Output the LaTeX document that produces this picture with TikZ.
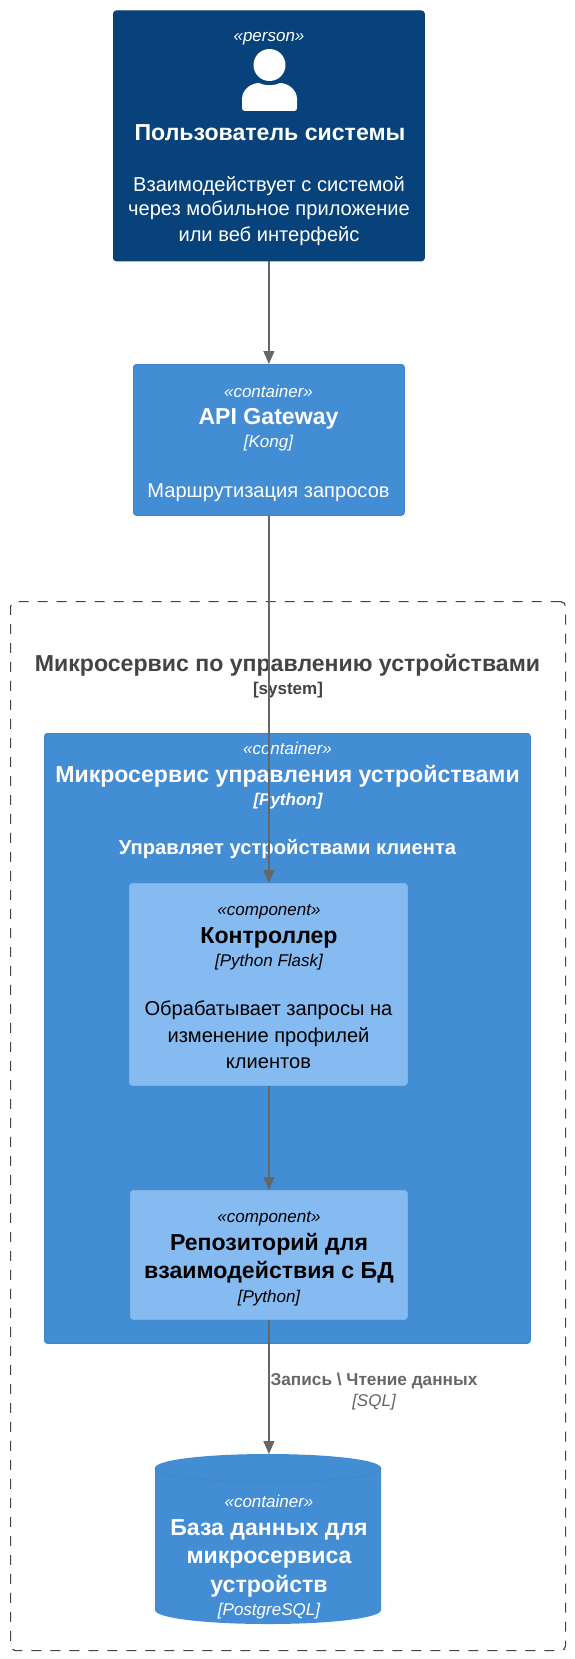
\documentclass[tikz,border=0pt]{standalone}
\usepackage{fontspec}
\setmainfont{Liberation Sans}
\usetikzlibrary{arrows.meta}
\definecolor{personc}{HTML}{08427B}
\definecolor{personb}{HTML}{0A3F74}
\definecolor{contc}{HTML}{438DD5}
\definecolor{contb}{HTML}{3F85CA}
\definecolor{compc}{HTML}{85BBF0}
\definecolor{compb}{HTML}{7FB2E4}
\definecolor{linec}{HTML}{666666}
\definecolor{sysc}{HTML}{444444}
\tikzset{
  x=1pt,y=-1pt,
  bx/.style={rectangle,rounded corners=3pt,inner sep=0pt,line width=0.8pt,anchor=north west},
  personbox/.style={bx,fill=personc,draw=personb},
  contbox/.style={bx,fill=contc,draw=contb},
  compbox/.style={bx,fill=compc,draw=compb},
  sysbox/.style={rectangle,rounded corners=5pt,draw=sysc,line width=1.2pt,dash pattern=on 10pt off 9pt,anchor=north west,inner sep=0pt},
  tx/.style={anchor=base,inner sep=0pt,align=center},
  wt/.style={text=white},
  stereo/.style={tx,font=\fontsize{17}{20}\selectfont\itshape},
  tech/.style={tx,font=\fontsize{17}{20}\selectfont\itshape},
  nm/.style={tx,font=\fontsize{23.1}{28}\selectfont\bfseries},
  desc/.style={tx,font=\fontsize{20.1}{25.5}\selectfont},
  conn/.style={draw=linec,line width=1.2pt,-{Triangle[length=13pt,width=11pt,fill=linec]}},
}
\begin{document}
\begin{tikzpicture}
\useasboundingbox (0,0) rectangle (575,1659);
\fill[white] (0,0) rectangle (575,1659);
% system boundary
\node[sysbox,minimum width=555pt,minimum height=1049pt] (sys) at (10,601) {};
\node[nm,text=sysc] (systitle) at (287.5,671.5) {Микросервис по управлению устройствами};
\node[tx,font=\fontsize{17}{20}\selectfont\bfseries,text=sysc] (systag) at (288,694) {[system]};
% person
\node[personbox,minimum width=311pt,minimum height=250pt] (person) at (113,10.5) {};
\node[stereo,wt] (pst) at (269,42) {«person»};
\node[fill=white,circle,minimum size=32pt,inner sep=0pt] (head) at (269.5,65) {};
\fill[white] (242,108) .. controls (242,110) and (243,111) .. (245,111) -- (294,111) .. controls (296,111) and (297,110) .. (297,108) -- (297,99) .. controls (297,89) and (287,83) .. (280,83) .. controls (274,86) and (265,86) .. (259,83) .. controls (252,83) and (242,89) .. (242,99) -- cycle;
\node[nm,wt] (pname) at (270,140) {Пользователь системы};
\node[desc,wt] (pd1) at (269,191) {Взаимодействует с системой};
\node[desc,wt] (pd2) at (269,215.5) {через мобильное приложение};
\node[desc,wt] (pd3) at (269,241) {или веб интерфейс};
% api
\node[contbox,minimum width=271pt,minimum height=151pt] (api) at (133,364) {};
\node[stereo,wt] (ast) at (268.5,397) {«container»};
\node[nm,wt] (aname) at (268.5,424) {API Gateway};
\node[tech,wt] (atech) at (268.5,447) {[Kong]};
\node[desc,wt] (adesc) at (268.5,497) {Маршрутизация запросов};
% container
\node[contbox,minimum width=486pt,minimum height=610pt] (cont) at (44,733) {};
\node[stereo,wt] (cst) at (287.5,754) {«container»};
\node[nm,wt] (cname) at (287.5,782) {Микросервис управления устройствами};
\node[tx,font=\fontsize{17}{20}\selectfont\itshape\bfseries,wt] (ctech) at (288,805) {[Python]};
\node[tx,font=\fontsize{20.2}{24}\selectfont\bfseries,wt] (cdesc) at (287.5,854) {Управляет устройствами клиента};
% controller
\node[compbox,minimum width=278pt,minimum height=202pt] (ctrl) at (129,883) {};
\node[stereo] (kst) at (269,915) {«component»};
\node[nm] (kname) at (269,943) {Контроллер};
\node[tech] (ktech) at (269,966) {[Python Flask]};
\node[desc] (kd1) at (268.5,1015) {Обрабатывает запросы на};
\node[desc] (kd2) at (268.5,1042) {изменение профилей};
\node[desc] (kd3) at (268.5,1068) {клиентов};
% repository
\node[compbox,minimum width=277pt,minimum height=129pt] (repo) at (130,1190) {};
\node[stereo] (rst) at (269,1222) {«component»};
\node[nm] (rn1) at (269,1250) {Репозиторий для};
\node[nm] (rn2) at (269,1278) {взаимодействия с БД};
\node[tech] (rtech) at (269,1302) {[Python]};
% database
\node[rectangle,anchor=north west,inner sep=0pt,minimum width=226pt,minimum height=170pt] (db) at (155,1454) {};
\fill[contc] (155,1468) .. controls (155,1460) and (205,1454) .. (268,1454) .. controls (331,1454) and (381,1460) .. (381,1468) -- (381,1610) .. controls (381,1618) and (331,1624) .. (268,1624) .. controls (205,1624) and (155,1618) .. (155,1610) -- cycle;
\draw[contb,line width=0.6pt] (155,1468) .. controls (155,1476) and (205,1482) .. (268,1482) .. controls (331,1482) and (381,1476) .. (381,1468);
\node[stereo,wt] (dst) at (269,1507) {«container»};
\node[nm,wt] (dn1) at (269,1535) {База данных для};
\node[nm,wt] (dn2) at (269,1563) {микросервиса};
\node[nm,wt] (dn3) at (269,1592) {устройств};
\node[tech,wt] (dtech) at (269,1615) {[PostgreSQL]};
% connectors
\draw[conn] (person.south -| api.south) -- (api.north);
\draw[conn] (api.south) -- (ctrl.north -| api.south);
\draw[conn] (ctrl.south -| api.south) -- (repo.north -| api.south);
\draw[conn] (repo.south -| api.south) -- (db.north -| api.south);
\node[tx,font=\fontsize{17.2}{20}\selectfont\bfseries,text=linec] (lbl) at (374,1385) {Запись \textbackslash{} Чтение данных};
\node[tech,text=linec] (lbltech) at (374,1406) {[SQL]};
\end{tikzpicture}
\end{document}
